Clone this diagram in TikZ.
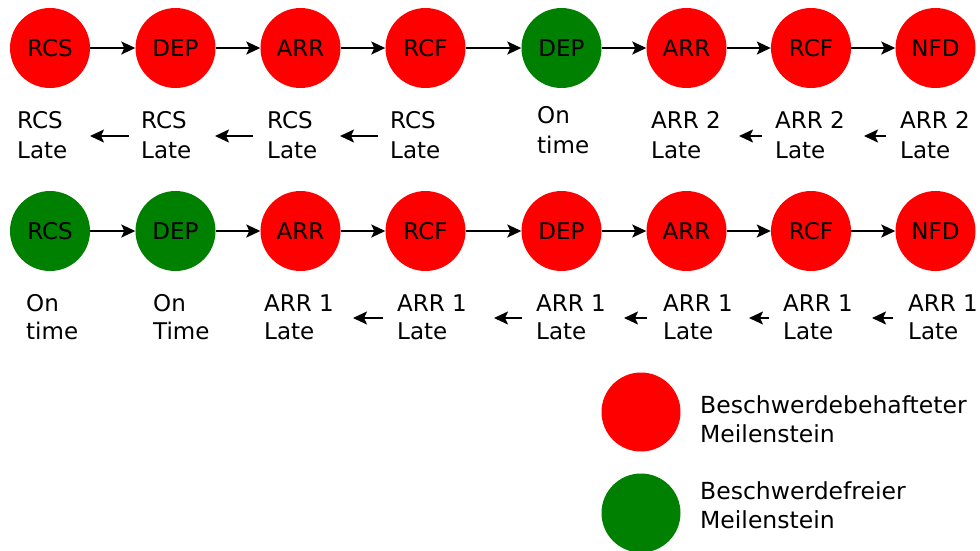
\documentclass[tikz,border=0pt]{standalone}
\usepackage{fontspec}
\setmainfont{DejaVu Sans}
\usetikzlibrary{arrows.meta}
\definecolor{mred}{HTML}{FF0000}
\definecolor{mgreen}{HTML}{008000}
\begin{document}
\begin{tikzpicture}[x=1pt,y=-1pt,
 ms/.style={circle,minimum size=80pt,inner sep=0pt,font=\fontsize{23}{26}\selectfont},
 bad/.style={ms,fill=mred},
 good/.style={ms,fill=mgreen},
 conn/.style={-{Stealth[length=14pt,width=13pt,inset=3pt]},line width=1.8pt},
 back/.style={-{Stealth[length=14pt,width=13pt,inset=3pt]},line width=1.8pt},
 labA/.style={anchor=north west,inner sep=0pt,align=left,font=\fontsize{23}{30}\selectfont},
 labB/.style={anchor=north west,inner sep=0pt,align=left,font=\fontsize{23}{28}\selectfont},
 labL/.style={anchor=north west,inner sep=0pt,align=left,font=\fontsize{23.5}{29}\selectfont},
]
\useasboundingbox (0,0) rectangle (980,550);
\fill[white] (0,0) rectangle (980,550);

% Row 1 milestones
\node[bad]  (a1) at (50,48)    {RCS};
\node[bad]  (a2) at (175.5,48) {DEP};
\node[bad]  (a3) at (300.5,48) {ARR};
\node[bad]  (a4) at (425.5,48) {RCF};
\node[good] (a5) at (561.5,48) {DEP};
\node[bad]  (a6) at (686.5,48) {ARR};
\node[bad]  (a7) at (811,48)   {RCF};
\node[bad]  (a8) at (935.5,48) {NFD};
\foreach \i/\j in {a1/a2,a2/a3,a3/a4,a4/a5,a5/a6,a6/a7,a7/a8}
  \draw[conn] (\i) -- (\j);

% Row 1 labels
\node[labA] (l1) at (17,107)  {\strut RCS\\Late};
\node[labA] (l2) at (141,107) {\strut RCS\\Late};
\node[labA] (l3) at (267,107) {\strut RCS\\Late};
\node[labA] (l4) at (390,107) {\strut RCS\\Late};
\node[labA] (l5) at (537,102) {\strut On\\time};
\node[labA] (l6) at (651,107) {\strut ARR 2\\Late};
\node[labA] (l7) at (775,107) {\strut ARR 2\\Late};
\node[labA] (l8) at (900,107) {\strut ARR 2\\Late};

\coordinate (p1s) at (129,136); \coordinate (p1e) at (90,136);
\coordinate (p2s) at (253,136); \coordinate (p2e) at (215,136);
\coordinate (p3s) at (378,136); \coordinate (p3e) at (340,136);
\coordinate (p4s) at (762,136); \coordinate (p4e) at (739,136);
\coordinate (p5s) at (886,136); \coordinate (p5e) at (864,136);
\foreach \k in {1,...,5} \draw[back] (p\k s) -- (p\k e);

% Row 2 milestones
\node[good] (b1) at (50,231)    {RCS};
\node[good] (b2) at (175.5,231) {DEP};
\node[bad]  (b3) at (300.5,231) {ARR};
\node[bad]  (b4) at (425.5,231) {RCF};
\node[bad]  (b5) at (561.5,231) {DEP};
\node[bad]  (b6) at (686.5,231) {ARR};
\node[bad]  (b7) at (811,231)   {RCF};
\node[bad]  (b8) at (935.5,231) {NFD};
\foreach \i/\j in {b1/b2,b2/b3,b3/b4,b4/b5,b5/b6,b6/b7,b7/b8}
  \draw[conn] (\i) -- (\j);

% Row 2 labels
\node[labB] (m1) at (26,291.5)  {\strut On\\time};
\node[labB] (m2) at (153,291.5) {\strut On\\Time};
\node[labB] (m3) at (264,291.5) {\strut ARR 1\\Late};
\node[labB] (m4) at (397,291.5) {\strut ARR 1\\Late};
\node[labB] (m5) at (536,291.5) {\strut ARR 1\\Late};
\node[labB] (m6) at (663,291.5) {\strut ARR 1\\Late};
\node[labB] (m7) at (783,291.5) {\strut ARR 1\\Late};
\node[labB] (m8) at (908,291.5) {\strut ARR 1\\Late};

\coordinate (q1s) at (383,318); \coordinate (q1e) at (353,318);
\coordinate (q2s) at (522,318); \coordinate (q2e) at (494,318);
\coordinate (q3s) at (647,318); \coordinate (q3e) at (624,318);
\coordinate (q4s) at (769,318); \coordinate (q4e) at (749,318);
\coordinate (q5s) at (893,318); \coordinate (q5e) at (872,318);
\foreach \k in {1,...,5} \draw[back] (q\k s) -- (q\k e);

% Legend
\node[bad,minimum size=79pt]  (lr) at (641,412) {};
\node[good,minimum size=79pt] (lg) at (641,513) {};
\node[labL] (tr) at (700,392.7) {\strut Beschwerdebehafteter\\Meilenstein};
\node[labL] (tg) at (700,478.7) {\strut Beschwerdefreier\\Meilenstein};
\end{tikzpicture}
\end{document}
